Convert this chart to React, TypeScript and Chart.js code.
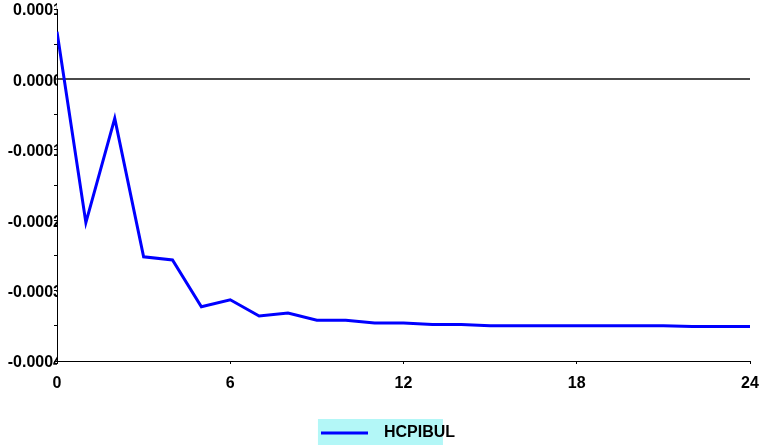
import React, { useEffect, useRef } from 'react';
import { Chart, registerables } from 'chart.js';

Chart.register(...registerables);

const periods = [0, 1, 2, 3, 4, 5, 6, 7, 8, 9, 10, 11, 12, 13, 14, 15, 16, 17, 18, 19, 20, 21, 22, 23, 24];
const hcpibul = [
  0.0000678, -0.0002035, -0.0000553, -0.000252, -0.0002565, -0.000323, -0.000313, -0.000336,
  -0.000332, -0.000342, -0.000342, -0.000346, -0.000346, -0.000348, -0.000348, -0.00035,
  -0.00035, -0.00035, -0.00035, -0.00035, -0.00035, -0.00035, -0.000351, -0.000351, -0.000351,
];
const seriesName = 'HCPIBUL';
const yMin = -0.0004;
const yMax = 0.0001;
const yStep = 0.00005;
const xStep = 6;

const labelFont = { family: "'Liberation Sans', Arial, sans-serif", size: 16, weight: 'bold' as const };

// light cyan patch behind the legend entry
const legendPatch = {
  id: 'legendPatch',
  beforeDraw(chart: any) {
    const boxes = chart.legend?.legendHitBoxes;
    if (!boxes || !boxes.length) return;
    const hb = boxes[0];
    const ctx = chart.ctx;
    ctx.save();
    ctx.fillStyle = '#b3f7f7';
    ctx.fillRect(hb.left + 23, hb.top - 6, 125, chart.height - hb.top + 6);
    ctx.restore();
  },
};

// legend swatch: a short blue line with some room on its left
const makeSwatch = () => {
  const c = document.createElement('canvas');
  c.width = 81;
  c.height = 4;
  const g = c.getContext('2d');
  if (g) {
    g.fillStyle = '#0000ff';
    g.fillRect(26, 0.5, 47, 3);
  }
  return c;
};

const ImpulseChart = () => {
  const chartRef = useRef<HTMLCanvasElement>(null);
  const chartInstance = useRef<Chart | null>(null);

  useEffect(() => {
    document.body.style.margin = '0';
    if (!chartRef.current) return;
    if (chartInstance.current) chartInstance.current.destroy();

    const swatch = makeSwatch();

    chartInstance.current = new Chart(chartRef.current, {
      type: 'line',
      data: {
        datasets: [
          {
            label: seriesName,
            data: periods.map((p, i) => ({ x: p, y: hcpibul[i] })),
            borderColor: '#0000ff',
            backgroundColor: '#0000ff',
            borderWidth: 3,
            pointRadius: 0,
            tension: 0,
          },
        ],
      },
      options: {
        animation: false,
        responsive: true,
        maintainAspectRatio: false,
        layout: { padding: { top: 9, right: 12, left: 0, bottom: -6 } },
        plugins: {
          tooltip: { enabled: false },
          legend: {
            position: 'bottom',
            labels: {
              usePointStyle: true,
              pointStyle: swatch as any,
              pointStyleWidth: 81,
              padding: 5,
              color: '#000',
              font: labelFont,
            },
          },
        },
        scales: {
          x: {
            type: 'linear',
            min: 0,
            max: 24,
            afterFit: (scale: any) => {
              scale.height = 59;
              scale.paddingLeft = 0;
              scale.paddingRight = 0;
            },
            border: { display: true, color: '#000', width: 1 },
            grid: { drawOnChartArea: false, drawTicks: true, tickLength: 3, tickColor: '#000' },
            ticks: { stepSize: xStep, color: '#000', font: labelFont, padding: 10, maxRotation: 0 },
          },
          y: {
            min: yMin,
            max: yMax,
            afterFit: (scale: any) => {
              scale.width = 57;
            },
            border: { display: true, color: '#000', width: 1 },
            grid: {
              drawTicks: true,
              tickLength: 3,
              tickColor: '#000',
              tickWidth: 1,
              color: (c: any) => (Math.abs(c.tick.value) < 1e-10 ? '#4a4a4a' : 'rgba(0,0,0,0)'),
              lineWidth: (c: any) => (Math.abs(c.tick.value) < 1e-10 ? 2 : 1),
            },
            ticks: {
              stepSize: yStep,
              color: '#000',
              font: labelFont,
              padding: -8,
              labelOffset: 2,
              callback: (value: any, index: number) => {
                if (index % 2 !== 0) return '';
                const v = Number(value);
                return Math.abs(v) < 1e-10 ? '0.0000' : v.toFixed(4);
              },
            },
          },
        },
      },
      plugins: [legendPatch],
    });

    return () => {
      if (chartInstance.current) {
        chartInstance.current.destroy();
        chartInstance.current = null;
      }
    };
  }, []);

  return (
    <div style={{ position: 'relative', width: 762, height: 445, background: '#fff' }}>
      <canvas ref={chartRef}></canvas>
    </div>
  );
};

export default function App() {
  return <ImpulseChart />;
}
